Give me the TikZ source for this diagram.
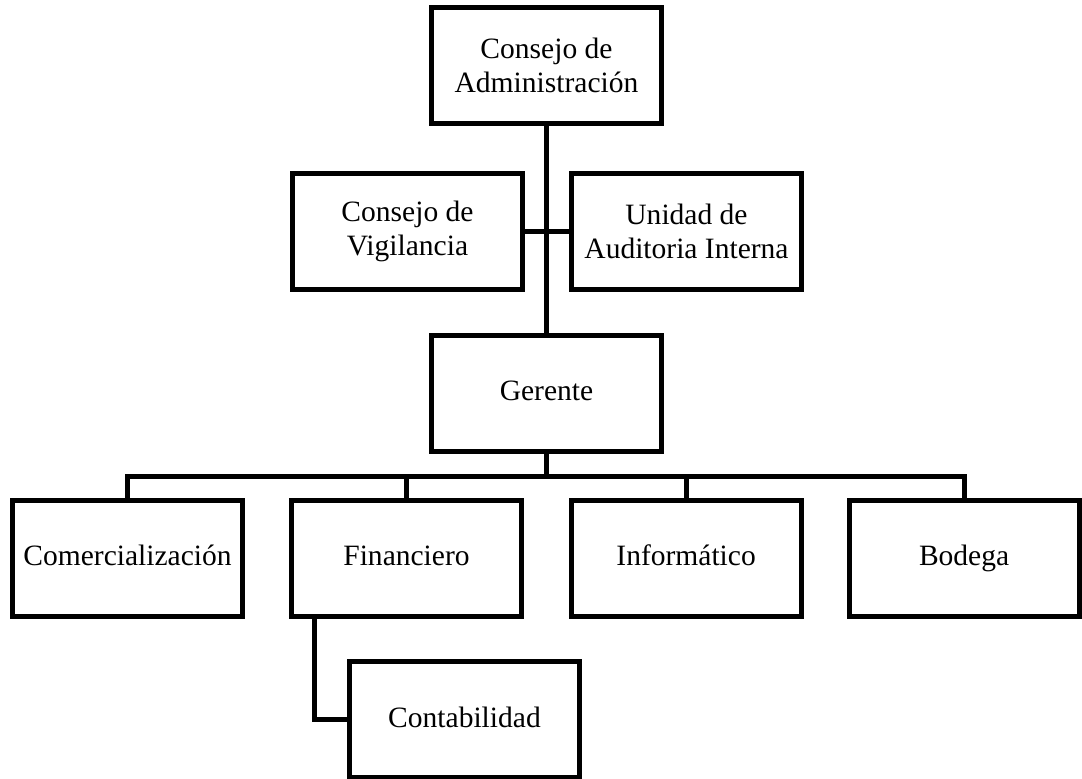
\documentclass[tikz,border=0pt]{standalone}
\usepackage{fontspec}
\setmainfont{Liberation Serif}
\usetikzlibrary{positioning}

\begin{document}
\begin{tikzpicture}[on grid, every node/.style={font=\fontsize{21}{24}\selectfont},
    unit/.style={draw, line width=0.125cm, outer sep=0pt, minimum width=5.75cm, minimum height=2.9cm, align=center},
    oneline/.style={unit, text height=1.05em, text depth=0em},
    link/.style={line width=0.125cm}]
    \useasboundingbox (-13.6625,1.6375) rectangle (13.3875,-17.8125);
    \node[unit] (admin) {Consejo de\\Administración};
    \node[unit, below left=4.15cm and 3.475cm of admin] (vigil) {Consejo de\\Vigilancia};
    \node[unit, below right=4.15cm and 3.5cm of admin] (audit) {Unidad de\\Auditoria Interna};
    \node[oneline, below=8.2cm of admin] (gerente) {Gerente};
    \node[oneline, below left=4.125cm and 3.5cm of gerente] (finan) {Financiero};
    \node[oneline, below right=4.125cm and 3.49cm of gerente] (inform) {Informático};
    \node[oneline, left=6.975cm of finan] (comer) {Comercialización};
    \node[oneline, right=6.95cm of inform] (bodega) {Bodega};
    \node[oneline, below right=4.03cm and 1.45cm of finan] (contab) {Contabilidad};
    \draw[link] (admin) -- (gerente);
    \draw[link] (vigil) -- (audit);
    \draw[link] (gerente.south) -- ++(0,-0.625) coordinate (bus);
    \draw[link] (comer.north) |- (bus) -| (bodega.north);
    \draw[link] (finan.north) -- (finan.north |- bus);
    \draw[link] (inform.north) -- (inform.north |- bus);
    \draw[link] ([xshift=0.575cm]finan.south west) |- (contab.west);
\end{tikzpicture}
\end{document}
